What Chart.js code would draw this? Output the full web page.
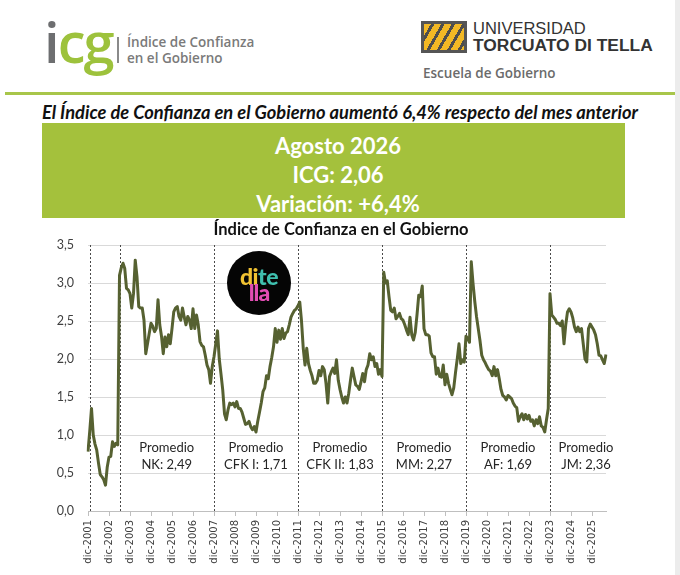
<!DOCTYPE html>
<html lang="es">
<head>
    <meta charset="UTF-8"/>
    <meta name="viewport" content="width=device-width, initial-scale=1.0"/>
    <title>Índice de Confianza en el Gobierno</title>
    <script src="https://cdn.jsdelivr.net/npm/chart.js"></script>
    <style>
        body { margin: 0; width: 680px; height: 575px; background: #fff; position: relative; overflow: hidden; font-family: Lato, sans-serif; }
        .abs { position: absolute; }
        /* Cabecera */
        .logo-icg { left: 44px; top: 6px; font-family: "Open Sans", sans-serif; font-weight: 600; font-size: 56px; letter-spacing: -2px; line-height: 70px; }
        .logo-icg .i { color: #6d6e70; }
        .logo-icg .cg { color: #9dc23c; }
        .separador { left: 117px; top: 37px; width: 2px; height: 26px; background: #8a8a8a; }
        .texto-icg { left: 127px; top: 34px; font-family: "Open Sans", sans-serif; font-weight: 600; font-size: 13.5px; line-height: 16px; color: #7a7a7a; }
        .escudo { left: 421px; top: 21px; width: 46px; height: 32px; box-sizing: border-box; border: 3px solid #555; background: repeating-linear-gradient(120deg, #f2b824 0 6px, #4d4d4d 6px 9px); }
        .univ { left: 473px; top: 19px; font-family: "Liberation Sans", Arial, sans-serif; font-size: 16.5px; color: #333; line-height: 18px; }
        .torcuato { left: 473px; top: 36px; font-family: "Liberation Sans", Arial, sans-serif; font-weight: bold; font-size: 17.4px; color: #333; line-height: 18px; }
        .escuela { left: 423px; top: 64px; font-family: "Open Sans", sans-serif; font-weight: 600; font-size: 13.5px; color: #6b6b6b; line-height: 18px; }
        .linea-verde { left: 5px; top: 92px; width: 670px; height: 3px; background: #a8c64a; }
        .borde-der { left: 675px; top: 0; width: 5px; height: 575px; background: #ececec; }
        .titular { left: 0; top: 101px; width: 680px; text-align: center; font-weight: bold; font-style: italic; font-size: 18.3px; line-height: 22px; color: #111; margin: 0; }
        .recuadro { left: 42px; top: 123px; width: 583px; height: 95px; box-sizing: border-box; padding: 8px 0 0 9px; background: #a4c13c; color: #fff; text-align: center; font-weight: bold; font-size: 22px; line-height: 29px; }
        .titulo-grafico { left: 0; top: 219px; width: 682px; text-align: center; font-weight: bold; font-size: 16.5px; line-height: 20px; color: #111; margin: 0; }
        .grafico { left: 0; top: 218px; width: 680px; height: 357px; }
        .ditella { left: 227px; top: 251px; width: 64px; height: 64px; border-radius: 50%; background: #050505; font-family: Lato, sans-serif; font-weight: 900; font-size: 23px; line-height: 16px; text-align: center; z-index: 2; }
        .ditella .l1 { margin-top: 17px; letter-spacing: -0.5px; }
        .ditella .l2 { color: #e24db3; margin-top: 0px; letter-spacing: -1px; }
    </style>
</head>
<body>
    <!-- Cabecera -->
    <div class="abs logo-icg"><span class="i">i</span><span class="cg">cg</span></div>
    <div class="abs separador"></div>
    <div class="abs texto-icg">Índice de Confianza<br/>en el Gobierno</div>
    <div class="abs escudo"></div>
    <div class="abs univ">UNIVERSIDAD</div>
    <div class="abs torcuato">TORCUATO DI TELLA</div>
    <div class="abs escuela">Escuela de Gobierno</div>
    <div class="abs linea-verde"></div>
    <div class="abs borde-der"></div>

    <p class="abs titular">El Índice de Confianza en el Gobierno aumentó 6,4% respecto del mes anterior</p>
    <div class="abs recuadro">
        <div>Agosto 2026</div>
        <div>ICG: 2,06</div>
        <div>Variación: +6,4%</div>
    </div>

    <div class="abs grafico"><canvas id="icgChart"></canvas></div>
    <p class="abs titulo-grafico">Índice de Confianza en el Gobierno</p>
    <div class="abs ditella">
        <div class="l1"><span style="color:#f1c232">di</span><span style="color:#3fbfae">te</span></div>
        <div class="l2">lla</div>
    </div>

    <script>
        // Valores mensuales del ICG (dic-2001 a ago-2026)
        const icg2001 = [0.78];
        const icg2002 = [1.05, 1.35, 1.00, 0.88, 0.80, 0.63, 0.48, 0.45, 0.41, 0.34, 0.58, 0.71];
        const icg2003 = [0.72, 0.91, 0.85, 0.89, 0.87, 3.10, 3.20, 3.26, 3.19, 2.93, 2.91, 2.86];
        const icg2004 = [2.67, 2.86, 3.30, 3.08, 2.69, 2.67, 2.67, 2.51, 2.07, 2.20, 2.34, 2.47];
        const icg2005 = [2.43, 2.36, 2.40, 2.78, 2.45, 2.30, 2.07, 2.29, 2.16, 2.32, 2.20, 2.40];
        const icg2006 = [2.62, 2.67, 2.69, 2.56, 2.51, 2.67, 2.55, 2.45, 2.56, 2.51, 2.40, 2.66];
        const icg2007 = [2.40, 2.58, 2.45, 2.23, 2.18, 2.16, 2.05, 1.92, 1.86, 1.68, 1.90, 2.03];
        const icg2008 = [2.20, 2.37, 2.00, 1.80, 1.59, 1.28, 1.20, 1.33, 1.42, 1.40, 1.42, 1.37];
        const icg2009 = [1.44, 1.35, 1.35, 1.30, 1.22, 1.14, 1.15, 1.18, 1.11, 1.07, 1.11, 1.04];
        const icg2010 = [1.18, 1.30, 1.42, 1.57, 1.62, 1.78, 1.74, 1.90, 2.02, 2.16, 2.40, 2.22];
        const icg2011 = [2.38, 2.26, 2.40, 2.27, 2.34, 2.36, 2.45, 2.55, 2.60, 2.64, 2.66, 2.70];
        const icg2012 = [2.75, 2.50, 2.14, 1.92, 2.14, 1.94, 1.85, 1.78, 1.68, 1.68, 1.72, 1.85];
        const icg2013 = [1.78, 1.90, 1.86, 1.68, 1.42, 1.77, 1.83, 1.88, 1.81, 1.99, 1.72, 1.60];
        const icg2014 = [1.50, 1.42, 1.50, 1.42, 1.55, 1.72, 1.88, 1.77, 1.66, 1.64, 1.60, 1.70];
        const icg2015 = [1.81, 1.70, 1.86, 1.92, 2.07, 1.99, 2.03, 1.90, 1.94, 1.80, 1.86, 1.77];
        const icg2016 = [3.14, 3.00, 3.03, 2.82, 2.64, 2.62, 2.67, 2.53, 2.56, 2.60, 2.53, 2.51];
        const icg2017 = [2.45, 2.38, 2.32, 2.55, 2.32, 2.25, 2.35, 2.58, 2.84, 2.82, 2.96, 2.40];
        const icg2018 = [2.32, 2.32, 2.30, 2.08, 2.03, 2.03, 1.80, 1.88, 1.77, 1.76, 1.92, 1.66];
        const icg2019 = [1.80, 1.68, 1.60, 1.53, 1.62, 1.82, 2.00, 2.20, 1.94, 1.99, 1.96, 2.30];
        const icg2020 = [2.27, 2.22, 3.28, 3.00, 2.76, 2.56, 2.40, 2.24, 2.05, 1.99, 1.95, 1.90];
        const icg2021 = [1.86, 1.84, 1.78, 1.90, 1.78, 1.86, 1.74, 1.60, 1.52, 1.50, 1.46, 1.52];
        const icg2022 = [1.50, 1.48, 1.42, 1.38, 1.36, 1.18, 1.24, 1.28, 1.20, 1.27, 1.21, 1.26];
        const icg2023 = [1.18, 1.20, 1.12, 1.20, 1.15, 1.24, 1.12, 1.10, 1.04, 1.20, 1.35, 2.86];
        const icg2024 = [2.58, 2.55, 2.52, 2.47, 2.47, 2.44, 2.50, 2.20, 2.45, 2.62, 2.66, 2.62];
        const icg2025 = [2.54, 2.42, 2.36, 2.42, 2.36, 2.40, 2.20, 2.00, 1.96, 2.40, 2.46, 2.42];
        const icg2026 = [2.38, 2.32, 2.20, 2.05, 2.04, 1.99, 1.94, 2.06];

        const icg = [].concat(icg2001, icg2002, icg2003, icg2004, icg2005, icg2006, icg2007,
            icg2008, icg2009, icg2010, icg2011, icg2012, icg2013, icg2014, icg2015, icg2016,
            icg2017, icg2018, icg2019, icg2020, icg2021, icg2022, icg2023, icg2024, icg2025, icg2026);

        // Categorías mensuales
        const meses = ['ene', 'feb', 'mar', 'abr', 'may', 'jun', 'jul', 'ago', 'sep', 'oct', 'nov', 'dic'];
        const etiquetas = ['dic-2001'];
        for (let anio = 2002; anio <= 2026; anio++) {
            meses.forEach(m => etiquetas.push(m + '-' + anio));
        }
        etiquetas.length = icg.length;

        // Cambios de gobierno y promedios por período
        const cambiosGobierno = ['ene-2002', 'jun-2003', 'dic-2007', 'dic-2011', 'dic-2015', 'dic-2019', 'dic-2023'];
        const gobiernos = ['NK', 'CFK I', 'CFK II', 'MM', 'AF', 'JM'];
        const promedios = [2.49, 1.71, 1.83, 2.27, 1.69, 2.36];

        const lineasGobierno = {
            id: 'lineasGobierno',
            beforeDatasetsDraw(chart) {
                const { ctx, chartArea, scales } = chart;
                ctx.save();
                ctx.strokeStyle = '#4a4a4a';
                ctx.lineWidth = 1;
                ctx.setLineDash([2, 2]);
                cambiosGobierno.forEach(c => {
                    const x = Math.round(scales.x.getPixelForValue(etiquetas.indexOf(c))) + 0.5;
                    ctx.beginPath();
                    ctx.moveTo(x, chartArea.top);
                    ctx.lineTo(x, chartArea.bottom);
                    ctx.stroke();
                });
                ctx.restore();
            },
            afterDatasetsDraw(chart) {
                const { ctx, chartArea, scales } = chart;
                const yMedio = scales.y.getPixelForValue(0.72);
                ctx.save();
                ctx.fillStyle = '#262626';
                ctx.font = '13px Lato';
                ctx.textAlign = 'center';
                ctx.textBaseline = 'middle';
                gobiernos.forEach((g, i) => {
                    const x1 = scales.x.getPixelForValue(etiquetas.indexOf(cambiosGobierno[i + 1]));
                    const sig = cambiosGobierno[i + 2];
                    const x2 = sig ? scales.x.getPixelForValue(etiquetas.indexOf(sig)) : chartArea.right + 16;
                    const x = (x1 + x2) / 2;
                    ctx.fillText('Promedio', x, yMedio - 8.5);
                    ctx.fillText(g + ': ' + promedios[i].toFixed(2).replace('.', ','), x, yMedio + 8.5);
                });
                ctx.restore();
            }
        };

        const ctx = document.getElementById('icgChart').getContext('2d');
        new Chart(ctx, {
            type: 'line',
            data: {
                labels: etiquetas,
                datasets: [{
                    label: 'ICG',
                    data: icg,
                    borderColor: '#566131',
                    borderWidth: 3,
                    pointRadius: 0,
                    tension: 0,
                    borderJoinStyle: 'round'
                }]
            },
            options: {
                responsive: true,
                maintainAspectRatio: false,
                animation: false,
                layout: { padding: { left: 40, right: 74, top: 27, bottom: 0 } },
                plugins: {
                    legend: { display: false },
                    tooltip: { enabled: false }
                },
                scales: {
                    x: {
                        grid: { drawOnChartArea: false, drawTicks: true, tickLength: 5, color: '#bfbfbf' },
                        border: { display: true, color: '#bfbfbf' },
                        ticks: {
                            autoSkip: false,
                            minRotation: 90,
                            maxRotation: 90,
                            padding: 4,
                            color: '#404040',
                            font: { family: 'DejaVu Sans', size: 10 }
                        },
                        afterBuildTicks(scale) {
                            scale.ticks = scale.ticks.filter(t => etiquetas[t.value].startsWith('dic'));
                        },
                        afterFit(scale) { scale.height = 64; }
                    },
                    y: {
                        min: 0,
                        max: 3.5,
                        grid: { color: '#d9d9d9', drawTicks: false },
                        border: { display: false },
                        ticks: {
                            stepSize: 0.5,
                            padding: 14,
                            color: '#404040',
                            font: { family: 'Lato', size: 12.5 },
                            callback: v => v.toFixed(1).replace('.', ',')
                        },
                        afterFit(scale) { scale.width = 48; }
                    }
                }
            },
            plugins: [lineasGobierno]
        });
    </script>
